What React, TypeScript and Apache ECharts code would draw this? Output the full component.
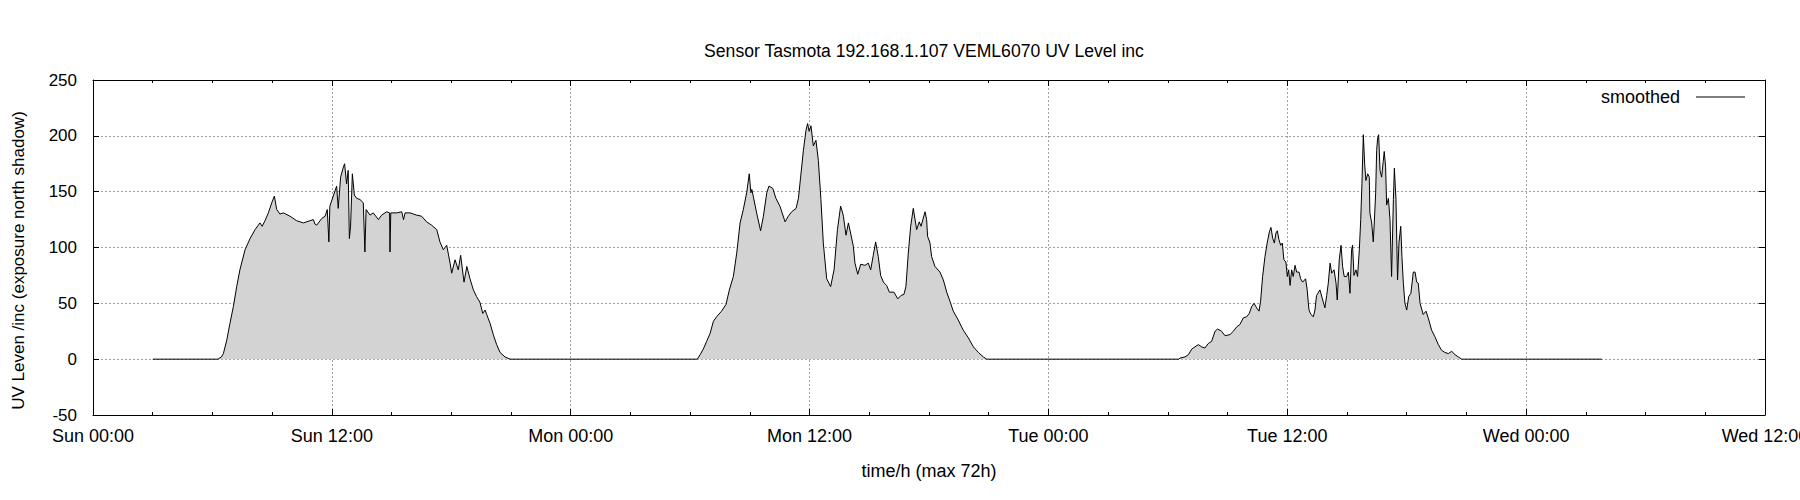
import React, { useEffect, useRef } from "react";
import * as echarts from "echarts";

// hours since Sun 00:00, UV level (inc)
const sunHours = [
  3.0, 6.28, 6.45, 6.55, 6.72, 6.88, 7.05, 7.22, 7.38, 7.64, 7.89, 8.14, 8.39, 8.5, 8.64, 8.81, 8.98,
  9.11, 9.23, 9.39, 9.56, 9.9, 10.23, 10.57, 10.9, 11.07, 11.15, 11.24, 11.49, 11.66, 11.77, 11.85,
  11.9, 12.07, 12.24, 12.32, 12.44, 12.58, 12.64, 12.74, 12.82, 12.88, 12.94, 13.03, 13.13, 13.25,
  13.41, 13.58, 13.66, 13.72, 13.92, 14.08, 14.34, 14.5, 14.75, 14.9, 14.92, 14.96, 15.26, 15.51,
  15.6, 15.68, 15.93, 16.26, 16.51, 16.76, 17.01, 17.27, 17.43, 17.6, 17.77, 17.94, 18.02, 18.19,
  18.35, 18.47, 18.64, 18.78, 18.94, 19.11, 19.27, 19.44, 19.58, 19.7, 19.78, 19.95, 20.11, 20.28,
  20.45, 20.7, 20.95,
];
const sunUv = [
  0, 0, 2, 5, 17, 32, 47, 65, 80, 98, 108, 116, 122, 119, 124, 131, 140,
  146, 134, 130, 131, 128, 124, 122, 124, 125, 121, 120, 126, 128, 134, 105,
  137, 146, 155, 135, 163, 172, 175, 157, 169, 108, 119, 166, 147, 144,
  143, 140, 96, 134, 129, 131, 125, 129, 132, 131, 96, 131, 131, 132,
  125, 131, 131, 129, 128, 123, 120, 116, 105, 98, 102, 86, 77, 89,
  80, 93, 69, 83, 72, 62, 56, 51, 41, 44, 40, 32, 22, 13,
  6, 2, 0,
];

const monHours = [
  30.36, 30.5, 30.66, 30.83, 31.0, 31.17, 31.33, 31.58, 31.8, 31.97, 32.17, 32.34, 32.51, 32.67,
  32.84, 32.97, 33.05, 33.1, 33.17, 33.34, 33.54, 33.68, 33.85, 33.96, 34.15, 34.31, 34.51, 34.77,
  34.93, 35.1, 35.32, 35.44, 35.55, 35.69, 35.82, 35.9, 35.98, 36.07, 36.19, 36.32, 36.44, 36.57,
  36.69, 36.86, 37.06, 37.23, 37.4, 37.56, 37.66, 37.7, 37.83, 37.95, 38.06, 38.2, 38.28, 38.42,
  38.57, 38.78, 38.95, 39.07, 39.2, 39.32, 39.45, 39.57, 39.71, 39.87, 40.01, 40.24, 40.43, 40.59,
  40.74, 40.84, 40.96, 41.08, 41.21, 41.38, 41.51, 41.6, 41.8, 41.88, 41.93, 42.05, 42.13, 42.3,
  42.55, 42.72, 42.89, 43.05, 43.22, 43.47, 43.72, 43.98, 44.23, 44.48, 44.73, 44.9,
];
const monUv = [
  0, 4, 9, 16, 23, 34, 38, 43, 49, 62, 74, 95, 122, 134,
  149, 166, 149, 152, 146, 131, 115, 128, 149, 155, 153, 144, 137, 123,
  128, 132, 135, 144, 163, 187, 205, 211, 204, 209, 191, 196, 178, 143,
  104, 72, 65, 80, 116, 137, 131, 128, 111, 122, 113, 101, 86, 76,
  85, 84, 86, 80, 93, 105, 92, 75, 69, 66, 60, 60, 54, 57,
  58, 65, 95, 119, 135, 116, 123, 119, 132, 125, 110, 104, 92, 83,
  78, 71, 60, 52, 43, 35, 26, 19, 11, 6, 2, 0,
];

const tueHours = [
  54.55, 54.61, 54.86, 55.03, 55.2, 55.36, 55.53, 55.7, 55.86, 56.03, 56.2, 56.37, 56.5, 56.7,
  56.87, 57.12, 57.29, 57.46, 57.62, 57.79, 57.96, 58.09, 58.21, 58.33, 58.46, 58.58, 58.66, 58.76,
  58.88, 58.99, 59.1, 59.18, 59.27, 59.35, 59.43, 59.5, 59.58, 59.67, 59.75, 59.83, 59.93, 60.0,
  60.07, 60.14, 60.22, 60.3, 60.39, 60.47, 60.59, 60.67, 60.77, 60.92, 61.0, 61.09, 61.19, 61.31,
  61.39, 61.47, 61.64, 61.78, 61.89, 61.98, 62.06, 62.15, 62.23, 62.35, 62.45, 62.51, 62.61, 62.7,
  62.78, 62.86, 62.98, 63.07, 63.15, 63.23, 63.28, 63.35, 63.45, 63.53, 63.62, 63.69, 63.75, 63.82,
  63.89, 63.95, 64.04, 64.12, 64.15, 64.24, 64.32, 64.37, 64.44, 64.49, 64.54, 64.59, 64.66, 64.74,
  64.82, 64.87, 64.94, 64.99, 65.08, 65.16, 65.24, 65.33, 65.38, 65.46, 65.54, 65.61, 65.7, 65.76,
  65.83, 65.91, 66.0, 66.1, 66.21, 66.33, 66.42, 66.5, 66.58, 66.67, 66.83, 66.97, 67.08, 67.25,
  67.42, 67.59, 67.75, 67.92, 68.09, 68.26, 68.43, 68.59, 68.76, 75.8,
];
const tueUv = [
  0, 1, 2, 4, 9, 11, 13, 11, 10, 14, 16, 25, 27, 25,
  21, 22, 25, 29, 31, 37, 38, 41, 47, 50, 46, 43, 52, 74,
  92, 104, 114, 118, 108, 104, 113, 115, 107, 102, 104, 89, 87, 74,
  80, 66, 80, 74, 84, 78, 78, 72, 69, 72, 62, 44, 40, 38,
  44, 57, 62, 53, 46, 57, 68, 86, 77, 80, 68, 53, 89, 102,
  83, 74, 74, 78, 59, 98, 102, 75, 80, 74, 98, 125, 157, 201,
  174, 160, 166, 163, 131, 122, 105, 122, 149, 187, 198, 201, 169, 163,
  177, 186, 172, 138, 144, 125, 74, 143, 171, 143, 71, 104, 119, 92,
  68, 50, 44, 56, 59, 78, 78, 69, 68, 50, 40, 43, 37, 26,
  20, 13, 8, 6, 5, 7, 4, 2, 0, 0,
];

const dayNames = ["Sun", "Mon", "Tue", "Wed"];

const font = "'Liberation Sans', Arial, Helvetica, sans-serif";

const App = () => {
  const chartRef = useRef<HTMLDivElement>(null);

  useEffect(() => {
    if (!chartRef.current) return;
    const chart = echarts.init(chartRef.current, undefined, { renderer: "svg" });

    const points: number[][] = [];
    [
      [sunHours, sunUv],
      [monHours, monUv],
      [tueHours, tueUv],
    ].forEach(([hours, values]) => {
      hours.forEach((h, i) => points.push([h, values[i]]));
    });

    const tickLabel = (v: number) =>
      dayNames[Math.floor(v / 24)] + " " + (v % 24 === 0 ? "00:00" : "12:00");

    const gridLine = { show: true, lineStyle: { color: "#a0a0a0", type: [2, 2], width: 1 } };
    const blackLine = { show: true, onZero: false, lineStyle: { color: "#000", width: 1 } };
    const ticks = { show: true, inside: true, length: 6, lineStyle: { color: "#000" } };
    const minor = { show: true, splitNumber: 4, length: 3, lineStyle: { color: "#000" } };

    const option: any = {
      animation: false,
      textStyle: { fontFamily: font, color: "#000" },
      title: {
        text: "Sensor Tasmota 192.168.1.107 VEML6070 UV Level inc",
        left: 919,
        top: 37,
        textAlign: "center",
        textStyle: { fontFamily: font, fontSize: 17.6, fontWeight: "normal", color: "#000" },
      },
      legend: {
        right: 50,
        top: 83,
        align: "right",
        icon: "rect",
        itemWidth: 49,
        itemHeight: 1,
        itemStyle: { color: "#000" },
        textStyle: { fontFamily: font, fontSize: 18, color: "#000", padding: [0, 11, 0, 0] },
        data: ["smoothed"],
      },
      grid: {
        left: 93,
        right: 35,
        top: 80,
        bottom: 85,
        containLabel: false,
        outerBoundsMode: "none",
      },
      xAxis: [
        {
          type: "value",
          min: 0,
          max: 84,
          interval: 12,
          name: "time/h (max 72h)",
          nameLocation: "middle",
          nameGap: 47,
          nameTextStyle: { fontFamily: font, fontSize: 18, color: "#000" },
          axisLine: blackLine,
          axisTick: ticks,
          minorTick: minor,
          axisLabel: {
            fontFamily: font,
            fontSize: 18,
            color: "#000",
            margin: 12,
            formatter: tickLabel,
          },
          splitLine: gridLine,
        },
        {
          type: "value",
          position: "top",
          min: 0,
          max: 84,
          interval: 12,
          axisLine: blackLine,
          axisTick: ticks,
          minorTick: minor,
          axisLabel: { show: false },
          splitLine: { show: false },
        },
      ],
      yAxis: [
        {
          type: "value",
          min: -50,
          max: 250,
          interval: 50,
          name: "UV Leven /inc (exposure north shadow)",
          nameLocation: "middle",
          nameGap: 66,
          nameTextStyle: { fontFamily: font, fontSize: 17, color: "#000", padding: [0, 26, 0, 0] },
          axisLine: blackLine,
          axisTick: ticks,
          axisLabel: { fontFamily: font, fontSize: 17, color: "#000", margin: 16 },
          splitLine: gridLine,
        },
        {
          type: "value",
          position: "right",
          min: -50,
          max: 250,
          interval: 50,
          axisLine: blackLine,
          axisTick: ticks,
          axisLabel: { show: false },
          splitLine: { show: false },
        },
      ],
      series: [
        {
          name: "smoothed",
          type: "line",
          xAxisIndex: 0,
          yAxisIndex: 0,
          data: points,
          showSymbol: false,
          symbol: "none",
          itemStyle: { color: "#000" },
          lineStyle: { color: "#000", width: 1 },
          areaStyle: { color: "#d3d3d3", opacity: 1 },
        },
      ],
    };

    chart.setOption(option);

    return () => {
      chart.dispose();
    };
  }, []);

  return (
    <div
      ref={chartRef}
      style={{ position: "absolute", left: 0, top: 0, width: 1800, height: 500, background: "#fff" }}
    />
  );
};

export default App;
